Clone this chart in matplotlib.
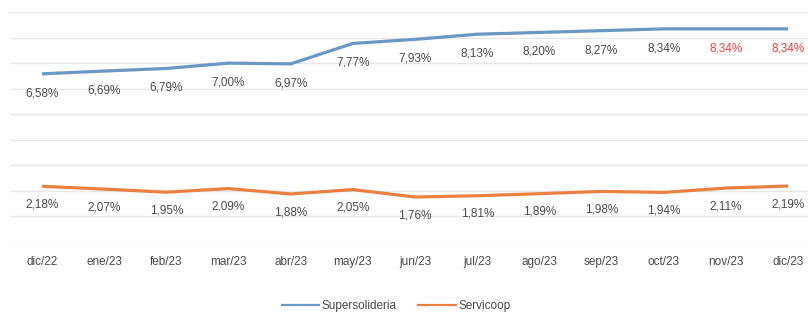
import numpy as np
from matplotlib import pyplot as plt
from matplotlib.lines import Line2D

meses = ['dic/22', 'ene/23', 'feb/23', 'mar/23', 'abr/23', 'may/23', 'jun/23',
         'jul/23', 'ago/23', 'sep/23', 'oct/23', 'nov/23', 'dic/23']
supersolidaria = [6.58, 6.69, 6.79, 7.00, 6.97, 7.77, 7.93, 8.13, 8.20, 8.27, 8.34, 8.34, 8.34]
servicoop = [2.18, 2.07, 1.95, 2.09, 1.88, 2.05, 1.76, 1.81, 1.89, 1.98, 1.94, 2.11, 2.19]
# etiquetas en rojo (valores repetidos)
rojos = [11, 12]

plt.rcParams['font.family'] = ['Liberation Sans', 'DejaVu Sans']

azul = '#6b97c4'
naranja = '#ec8040'
gris = '#4a4a4a'
fs = 8.5

fig = plt.figure(figsize=(8.08, 3.16), dpi=100)
ax = fig.add_axes([10/808, 74/316, 798/808, 230/316])

x = np.arange(len(meses))
ax.plot(x, supersolidaria, color=azul, lw=2.3, solid_capstyle='butt')
ax.plot(x, servicoop, color=naranja, lw=2.3, solid_capstyle='butt')

def fmt(v):
    return ('%.2f%%' % v).replace('.', ',')

for i, v in enumerate(supersolidaria):
    col = '#e8413c' if i in rojos else gris
    ax.annotate(fmt(v), (x[i], v), xytext=(0, -14), textcoords='offset points',
                ha='center', va='center', fontsize=fs, color=col)
for i, v in enumerate(servicoop):
    ax.annotate(fmt(v), (x[i], v), xytext=(0, -13), textcoords='offset points',
                ha='center', va='center', fontsize=fs, color=gris)

ax.set_ylim(0, 9)
ax.set_yticks(np.arange(0, 10, 1))
ax.set_yticklabels([])
ax.tick_params(axis='y', length=0)
ax.set_xlim(-0.515, 12.32)
ax.set_xticks(x)
ax.set_xticklabels(meses, fontsize=fs, color=gris)
ax.tick_params(axis='x', length=0, pad=10)
ax.grid(True, axis='y', color='#e6e6e6', lw=0.9)
ax.set_axisbelow(True)
for s in ax.spines.values():
    s.set_visible(False)

handles = [Line2D([], [], color=azul, lw=1.6), Line2D([], [], color=naranja, lw=1.6)]
fig.legend(handles, ['Supersolideria', 'Servicoop'], loc='center',
           bbox_to_anchor=(0.49, 10/316), ncol=2, frameon=False,
           fontsize=fs, handlelength=3.2, columnspacing=1.8, handletextpad=0.2,
           labelcolor=gris)

fig.savefig('out.png', dpi=100)
